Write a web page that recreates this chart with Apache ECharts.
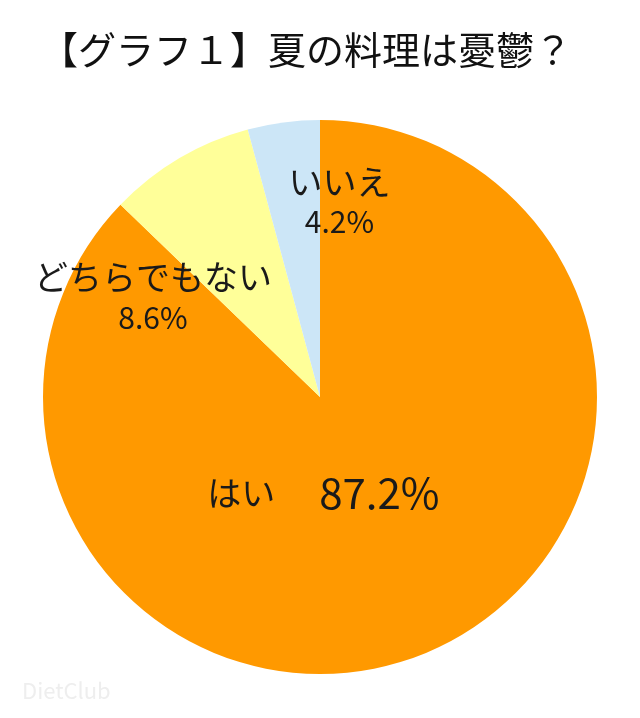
<!DOCTYPE html>
<html>
<head>
<meta charset="utf-8">
<script src="https://cdn.jsdelivr.net/npm/echarts@6/dist/echarts.min.js"></script>
<style>
html,body{margin:0;padding:0;background:#fff;}
#chart{width:640px;height:718px;}
</style>
</head>
<body>
<div id="chart"></div>
<script>
const titleText = '【グラフ１】夏の料理は憂鬱？';
const categories = ['はい', 'どちらでもない', 'いいえ'];
const values = [87.2, 8.6, 4.2];
const colors = ['#FF9900', '#FFFF99', '#CCE6F7'];
const labelOffsets = [[-52, -34], [-95, 22], [38, -55]];

const font = '"Noto Sans CJK JP", "Noto Sans", sans-serif';
const chart = echarts.init(document.getElementById('chart'), null, {renderer: 'canvas'});

const data = categories.map((c, i) => ({
  name: c,
  value: values[i],
  itemStyle: {color: colors[i]},
  label: {
    offset: labelOffsets[i],
    formatter: i === 0 ? '{k|{b}}{gap|}{big|{c}%}' : '{k|{b}}\n{n|{c}%}'
  }
}));

chart.setOption({
  backgroundColor: '#ffffff',
  animation: false,
  title: {
    text: titleText,
    left: 35,
    top: 26,
    textStyle: {fontFamily: font, fontSize: 38, fontWeight: 'normal', color: '#111'}
  },
  graphic: [{
    type: 'text',
    left: 22,
    top: 680,
    style: {text: 'DietClub', fontSize: 22, fontFamily: font, fill: '#eeeeee'}
  }],
  series: [{
    type: 'pie',
    center: [320, 397],
    radius: [0, 277],
    startAngle: 90,
    clockwise: true,
    data: data,
    label: {
      show: true,
      position: 'inside',
      fontFamily: font,
      color: '#1a1a1a',
      align: 'center',
      rich: {
        k: {fontFamily: font, fontSize: 34, lineHeight: 40, color: '#1a1a1a'},
        n: {fontFamily: font, fontSize: 30, lineHeight: 40, color: '#1a1a1a'},
        gap: {width: 44, height: 10},
        big: {fontFamily: font, fontSize: 42, lineHeight: 46, color: '#1a1a1a'}
      }
    },
    labelLine: {show: false},
    emphasis: {disabled: true},
    itemStyle: {borderWidth: 0}
  }]
});
</script>
</body>
</html>
